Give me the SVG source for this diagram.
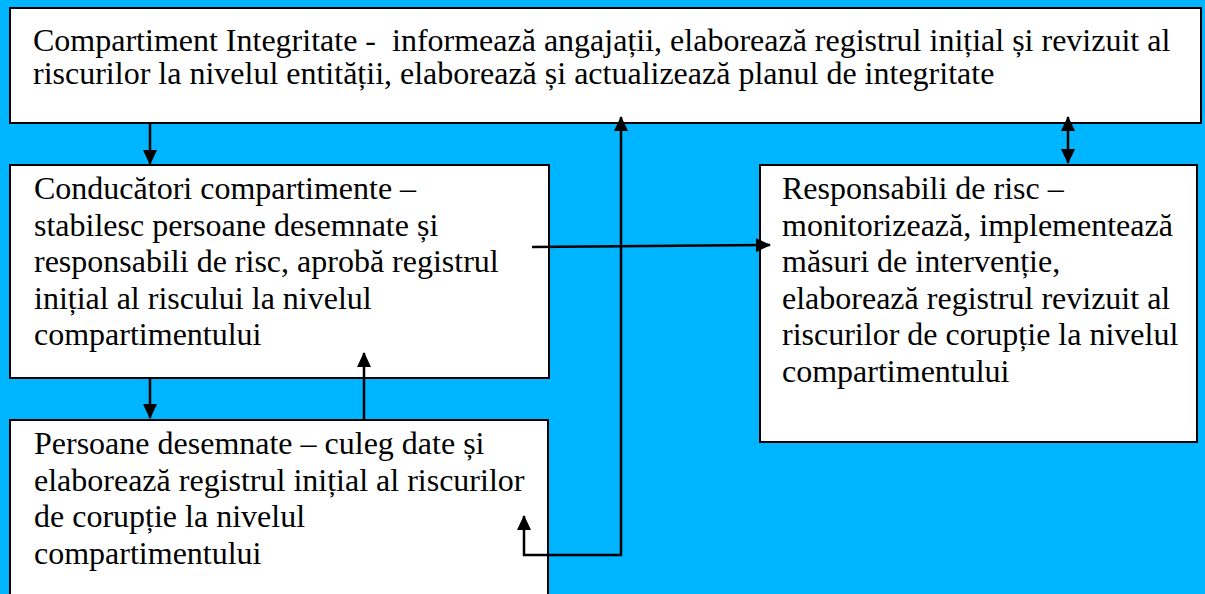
<svg xmlns="http://www.w3.org/2000/svg" width="1205" height="594" viewBox="0 0 1205 594">
<style>
.box{fill:#fff;stroke:#000;stroke-width:2}
.t{font-family:"Liberation Serif","Times New Roman","DejaVu Serif",serif;font-size:32px;fill:#000}
.c{fill:none;stroke:#000;stroke-width:2.5}
</style>
<defs>
<marker id="ah" markerUnits="userSpaceOnUse" markerWidth="15" markerHeight="14" refX="14" refY="7" orient="auto-start-reverse" viewBox="0 0 15 14">
<path d="M0,0 L15,7 L0,14 z" fill="#000"/>
</marker>
</defs>
<rect x="0" y="0" width="1205" height="594" fill="#00B5FF"/>
<g id="integritate">
<rect class="box" x="10" y="8" width="1191" height="115"/>
<text class="t" x="33" y="51" xml:space="preserve">Compartiment Integritate -  informează angajații, elaborează registrul inițial și revizuit al</text>
<text class="t" x="33" y="84">riscurilor la nivelul entității, elaborează și actualizează planul de integritate</text>
</g>
<g id="conducatori">
<rect class="box" x="10" y="165" width="539" height="213"/>
<text class="t" x="34" y="199">Conducători compartimente –</text>
<text class="t" x="34" y="236">stabilesc persoane desemnate și</text>
<text class="t" x="34" y="272">responsabili de risc, aprobă registrul</text>
<text class="t" x="34" y="309">inițial al riscului la nivelul</text>
<text class="t" x="34" y="345">compartimentului</text>
</g>
<g id="persoane">
<rect class="box" x="10" y="420" width="538" height="190"/>
<text class="t" x="34" y="454">Persoane desemnate – culeg date și</text>
<text class="t" x="34" y="491">elaborează registrul inițial al riscurilor</text>
<text class="t" x="34" y="527">de corupție la nivelul</text>
<text class="t" x="34" y="564">compartimentului</text>
</g>
<g id="responsabili">
<rect class="box" x="760" y="165" width="437" height="277"/>
<text class="t" x="782" y="199">Responsabili de risc –</text>
<text class="t" x="782" y="236">monitorizează, implementează</text>
<text class="t" x="782" y="272">măsuri de intervenție,</text>
<text class="t" x="782" y="309">elaborează registrul revizuit al</text>
<text class="t" x="782" y="345">riscurilor de corupție la nivelul</text>
<text class="t" x="782" y="382">compartimentului</text>
</g>
<g id="connectors">
<line class="c" x1="150" y1="123" x2="150" y2="164" marker-end="url(#ah)"/>
<line class="c" x1="150" y1="378" x2="150" y2="418" marker-end="url(#ah)"/>
<line class="c" x1="364" y1="420" x2="364" y2="353" marker-end="url(#ah)"/>
<line class="c" x1="532" y1="247" x2="770" y2="245" marker-end="url(#ah)"/>
<polyline class="c" points="524,516 524,555 621,555 621,117" marker-start="url(#ah)" marker-end="url(#ah)"/>
<line class="c" x1="1068" y1="117" x2="1068" y2="163" marker-start="url(#ah)" marker-end="url(#ah)"/>
</g>
</svg>
